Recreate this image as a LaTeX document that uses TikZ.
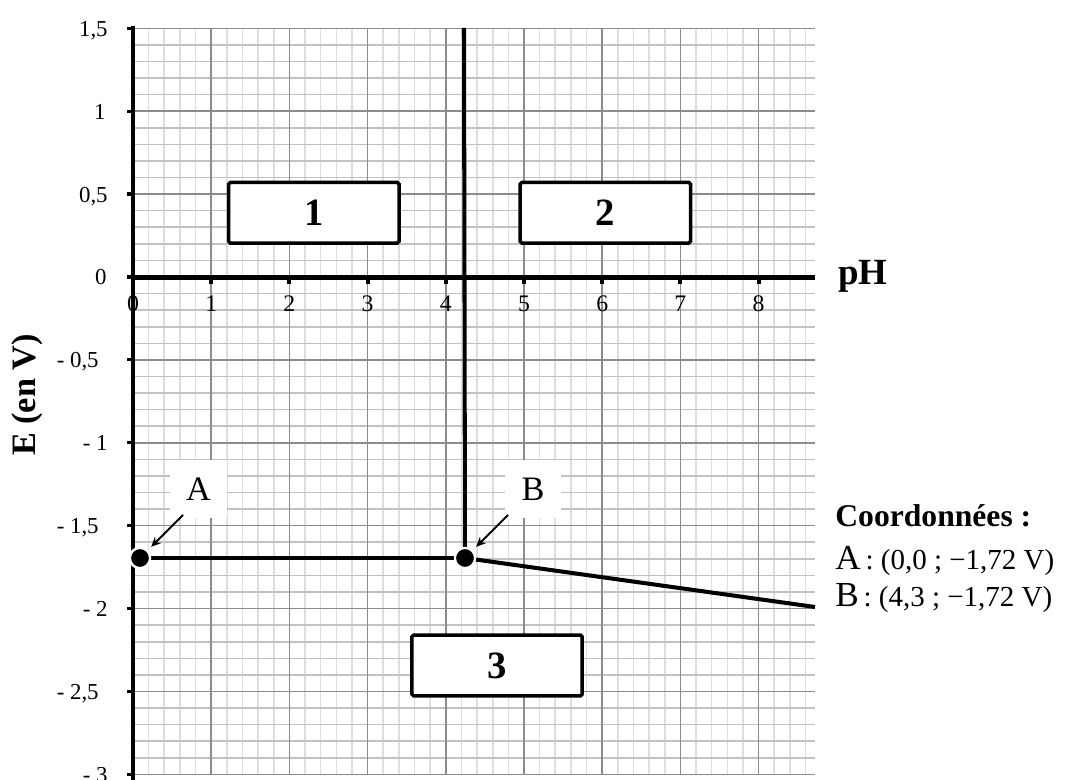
\documentclass[tikz,border=0pt]{standalone}
\usepackage{fontspec}
\setmainfont{Liberation Serif}
\usetikzlibrary{arrows.meta}
\tikzset{
 vminor/.style={draw=black!13, line width=0.9pt},
 hminor/.style={draw=black!24, line width=0.9pt},
 gmajor/.style={draw=black!45, line width=0.9pt},
 axisline/.style={line width=2.7pt},
 xaxisline/.style={line width=2.3pt},
 curve/.style={line width=2.3pt},
 zone/.style={draw, line width=2pt, rounded corners=1pt, fill=white, minimum width=97pt, minimum height=34.5pt, inner sep=0pt, font=\fontsize{22}{23}\selectfont\bfseries},
 dot/.style={circle, fill=black, draw=white, line width=1.3pt, minimum size=11.5pt, inner sep=0pt},
 ptlabel/.style={fill=white, minimum width=32pt, minimum height=33pt, inner sep=0pt, font=\fontsize{19.5}{20}\selectfont},
 arr/.style={-{Stealth[length=5.5pt,width=5pt]}, line width=1.1pt},
 ylab/.style={anchor=base east, inner sep=0pt, font=\fontsize{13}{14}\selectfont},
 xlab/.style={anchor=base, inner sep=0pt, font=\fontsize{13.5}{14}\selectfont},
}
\begin{document}
\begin{tikzpicture}[x=0.02cm,y=-0.02cm]
\useasboundingbox (0,0) rectangle (1066,780);
% grid
\foreach \i in {1,...,43} \draw[vminor] ({133+15.64*\i},28) -- ({133+15.64*\i},774.4);
\foreach \j in {0,...,45} \draw[hminor] (133,{28.3+16.58*\j}) -- (815,{28.3+16.58*\j});
\foreach \i in {1,...,8} \draw[gmajor] ({133+78.2*\i},28) -- ({133+78.2*\i},774.4);
\foreach \j in {0,...,9} \draw[gmajor] (133,{28.3+82.9*\j}) -- (815,{28.3+82.9*\j});
% x tick labels
\foreach \i in {0,...,8} \node[xlab] (xl\i) at ({133+78.2*\i},312) {\i};
% y tick labels
\foreach \v/\t/\r [count=\k] in {1.5/{1,5}/108, 1/1/106, 0.5/{0,5}/108, 0/0/107, -0.5/{- 0,5}/99, -1/{- 1}/108, -1.5/{- 1,5}/99, -2/{- 2}/108, -2.5/{- 2,5}/99, -3/{- 3}/108}
  \node[ylab] (yl\k) at (\r,{277-165.8*\v+8}) {\t};
% axes
\draw[axisline] (133,26) -- (133,780);
\draw[xaxisline] (131,277.5) -- (815,277.5);
\foreach \i in {1,...,8} \fill ({133+78.2*\i-2},277) rectangle ({133+78.2*\i+2},284);
\foreach \j in {0,...,9} \fill (127,{28.3+82.9*\j-1.6}) rectangle (133,{28.3+82.9*\j+1.6});
% axis titles
\node[rotate=90, font=\fontsize{19.5}{20}\selectfont\bfseries] (ytitle) at (27,395) {E (en V)};
\node[anchor=base west, inner sep=0pt, font=\fontsize{21}{22}\selectfont\bfseries] (phtitle) at (838,285) {pH};
% zones
\node[zone] (z1) at (313.8,212.8) {1};
\node[zone] (z2) at (605.3,212.8) {2};
\node[zone] (z3) at (497,665.5) {3};
% point labels
\node[ptlabel] (lA) at (198.5,489) {A};
\node[ptlabel] (lB) at (533,489) {B};
% points and lines
\node[dot] (A) at (140,558) {};
\node[dot] (B) at (465,558) {};
\coordinate (T) at (464,28);
\coordinate (C) at (815,607);
\coordinate (sA) at (183,515);
\coordinate (sB) at (508,515);
\draw[curve] (T) -- (B.center);
\draw[curve] (A.center) -- (B.center);
\draw[curve] (B.center) -- (C);
\node[dot] at (A) {};
\node[dot] at (B) {};
\draw[arr, shorten >=2.6pt] (sA) -- (A);
\draw[arr, shorten >=2.6pt] (sB) -- (B);
% coordinates text
\node[anchor=base west, inner sep=0pt, font=\fontsize{18}{19}\selectfont\bfseries] (coord) at (835,527) {Coordonnées :};
\node[anchor=base west, inner sep=0pt] (cA) at (835,570) {\fontsize{20}{21}\selectfont A\fontsize{16.5}{17}\selectfont\,: (0,0 ; −1,72 V)};
\node[anchor=base west, inner sep=0pt] (cB) at (835,607) {\fontsize{20}{21}\selectfont B\fontsize{16.5}{17}\selectfont\,: (4,3 ; −1,72 V)};
\end{tikzpicture}
\end{document}
